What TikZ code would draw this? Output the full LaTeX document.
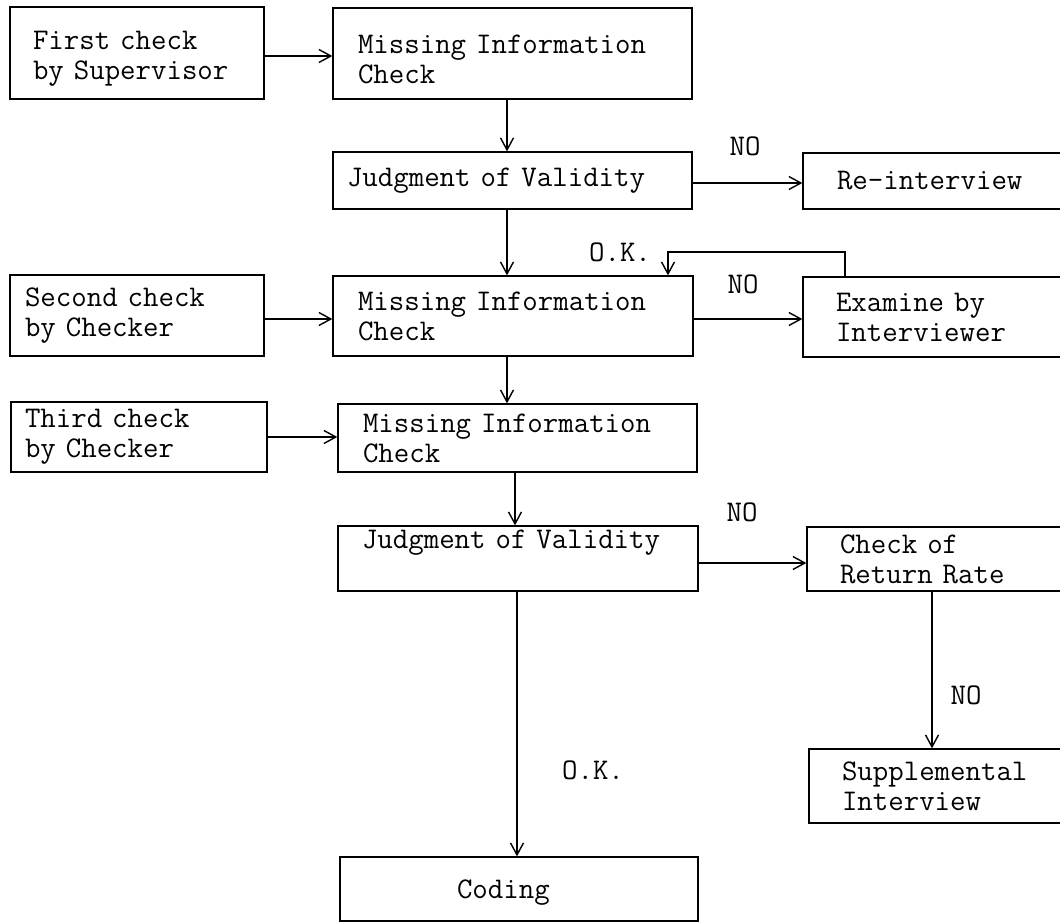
\documentclass[tikz,border=0pt]{standalone}
\usepackage{fontspec}
\usetikzlibrary{arrows.meta}
\newcommand\txtfont{\ttfamily\addfontfeatures{FakeBold=0.3}\fontsize{30}{30}\selectfont}
\tikzset{
  bx/.style={draw, line width=1.3pt, align=left, inner ysep=0pt, font=\txtfont},
  lbl/.style={font=\txtfont, inner sep=0pt},
  arr/.style={line width=1.3pt, -{Straight Barb[length=12pt,width=13pt,line width=1.4pt]}},
}
\begin{document}
\begin{tikzpicture}[x=1pt,y=-1pt]
\useasboundingbox (0,0) rectangle (1060,923);
\clip (0,0) rectangle (1060,923);
\fill[white] (0,0) rectangle (1060,923);

\node[bx, minimum width=254pt, minimum height=92pt, text width=208pt, inner xsep=23pt] (first) at (137,53) {First check\\by Supervisor\par\kern-12pt};
\node[bx, minimum width=359pt, minimum height=91pt, text width=309pt, inner xsep=25pt] (mi1) at (512.5,53.5) {Missing Information\\Check\par\kern-12pt};
\node[bx, minimum width=359pt, minimum height=57pt, text width=331pt, inner xsep=14pt] (j1) at (512.5,180.5) {Judgment of Validity};
\node[bx, minimum width=263pt, minimum height=56pt, text width=195pt, inner xsep=34pt] (re) at (934.5,181) {Re-interview};

\node[bx, minimum width=254pt, minimum height=81pt, text width=224pt, inner xsep=15pt] (sec) at (137,315.5) {Second check\\by Checker};
\node[bx, minimum width=360pt, minimum height=80pt, text width=310pt, inner xsep=25pt] (mi2) at (513,316) {Missing Information\\Check};
\node[bx, minimum width=263pt, minimum height=80pt, text width=197pt, inner xsep=33pt] (exam) at (934.5,317) {Examine by\\Interviewer};

\node[bx, minimum width=256pt, minimum height=70pt, text width=228pt, inner xsep=14pt] (third) at (139,437) {Third check\\by Checker};
\node[bx, minimum width=359pt, minimum height=68pt, text width=309pt, inner xsep=25pt] (mi3) at (517.5,438) {Missing Information\\Check};

\node[bx, minimum width=360pt, minimum height=65pt, text width=312pt, inner xsep=24pt] (j2) at (518,558.5) {Judgment of Validity\\\strut};
\node[bx, minimum width=259pt, minimum height=64pt, text width=193pt, inner xsep=33pt] (chk) at (936.5,559) {Check of\\Return Rate};
\node[bx, minimum width=257pt, minimum height=74pt, text width=191pt, inner xsep=33pt] (sup) at (937.5,786) {Supplemental\\Interview};
\node[bx, minimum width=358pt, minimum height=64pt, text width=124pt, inner xsep=117pt] (cod) at (519,889) {Coding\par\kern-10pt};

% labels
\node[lbl] (no1) at (745,146) {NO};
\node[lbl] (no2) at (743,284) {NO};
\node[lbl] (ok1) at (620,252) {O.K.};
\node[lbl] (no3) at (742,512) {NO};
\node[lbl] (no4) at (966,695) {NO};
\node[lbl] (ok2) at (593,770) {O.K.};

% connectors
\draw[arr] (first.east |- 0,56) -- (mi1.west |- 0,56);
\draw[arr] (mi1.south -| 507,0) -- (j1.north -| 507,0);
\draw[arr] (j1.east |- 0,183) -- (re.west |- 0,183);
\draw[arr] (j1.south -| 507,0) -- (mi2.north -| 507,0);
\draw[arr] (sec.east |- 0,319) -- (mi2.west |- 0,319);
\draw[arr] (mi2.east |- 0,319) -- (exam.west |- 0,319);
\coordinate (loopR) at (845,252);
\coordinate (loopL) at (668,252);
\draw[arr] (exam.north -| loopR) -- (loopR) -- (loopL) -- (mi2.north -| loopL);
\draw[arr] (mi2.south -| 507,0) -- (mi3.north -| 507,0);
\draw[arr] (third.east |- 0,437) -- (mi3.west |- 0,437);
\draw[arr] (mi3.south -| 515,0) -- (j2.north -| 515,0);
\draw[arr] (j2.east |- 0,563) -- (chk.west |- 0,563);
\draw[arr] (chk.south -| 932,0) -- (sup.north -| 932,0);
\draw[arr] (j2.south -| 517,0) -- (cod.north -| 517,0);
\end{tikzpicture}
\end{document}
